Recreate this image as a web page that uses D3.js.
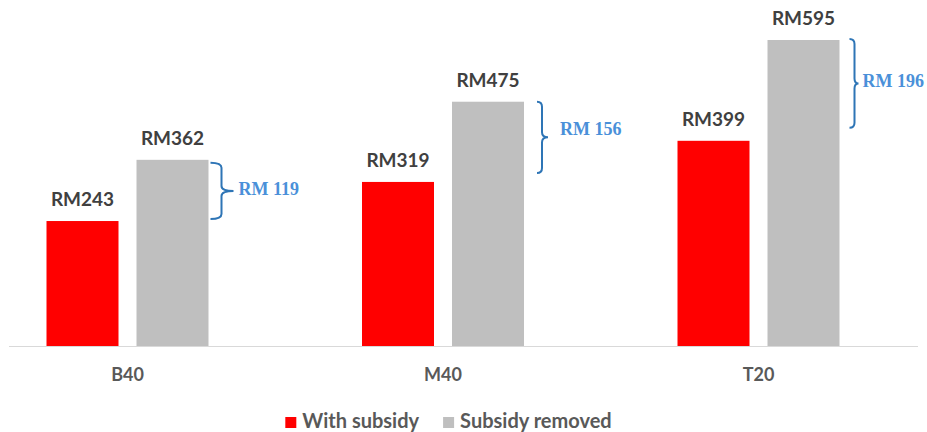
<!DOCTYPE html>
<html>
<head>
<meta charset="utf-8">
<script src="https://cdn.jsdelivr.net/npm/d3@7"></script>
<style>
  html, body { margin: 0; padding: 0; background: #fff; }
  svg { display: block; }
</style>
</head>
<body>
<svg id="chart" width="927" height="432"></svg>
<script>
// Monthly cost per household group, with and without subsidy
const categories = ["B40", "M40", "T20"];
const seriesNames = ["With subsidy", "Subsidy removed"];
const withSubsidy = [243, 319, 399];
const subsidyRemoved = [362, 475, 595];
const seriesColors = ["#ff0000", "#bfbfbf"];

// Hand-placed brace geometry per group (px offsets from the grey bar's right edge / bar tops)
const braceLayout = [
  { arm: 2,  spine: 13, tip: 25, label: 30, topAdj: 3,  botAdj: -2,  textDy: 4 },
  { arm: 13, spine: 18, tip: 24, label: 36, topAdj: 0,  botAdj: -9,  textDy: -2 },
  { arm: 10, spine: 15, tip: 19, label: 23, topAdj: -1, botAdj: -13, textDy: 4 }
];

const svg = d3.select("#chart");
const baseline = 346;

const x = d3.scaleBand()
  .domain(categories)
  .range([-30.25, 916.25]);

const xInner = d3.scaleBand()
  .domain(seriesNames)
  .range([0, 162])
  .paddingInner(0.2);

const y = d3.scaleLinear()
  .domain([0, 595])
  .range([baseline, 40]);

const rows = categories.map((c, i) => ({
  cat: c,
  idx: i,
  values: [withSubsidy[i], subsidyRemoved[i]]
}));

const groupX = c => x(c) + (x.bandwidth() - 162) / 2;

// baseline axis
svg.append("line")
  .attr("x1", 9).attr("x2", 918)
  .attr("y1", baseline + 0.5).attr("y2", baseline + 0.5)
  .attr("stroke", "#d9d9d9").attr("stroke-width", 1);

const groups = svg.selectAll("g.grp")
  .data(rows)
  .join("g")
  .attr("class", "grp")
  .attr("transform", d => `translate(${groupX(d.cat)},0)`);

groups.selectAll("rect")
  .data(d => d.values.map((v, k) => ({ v, k })))
  .join("rect")
  .attr("x", d => xInner(seriesNames[d.k]))
  .attr("width", xInner.bandwidth())
  .attr("y", d => y(d.v))
  .attr("height", d => baseline - y(d.v))
  .attr("fill", d => seriesColors[d.k]);

// value labels
groups.selectAll("text.val")
  .data(d => d.values.map((v, k) => ({ v, k })))
  .join("text")
  .attr("class", "val")
  .attr("x", d => xInner(seriesNames[d.k]) + xInner.bandwidth() / 2)
  .attr("y", d => y(d.v) - 15)
  .attr("text-anchor", "middle")
  .attr("font-family", "Lato, 'Open Sans', sans-serif")
  .attr("font-weight", "bold")
  .attr("font-size", "19px")
  .attr("fill", "#404040")
  .text(d => "RM" + d.v);

// difference braces
groups.each(function(d) {
  const g = d3.select(this);
  const L = braceLayout[d.idx];
  const gx = xInner(seriesNames[1]) + xInner.bandwidth();
  const top = y(d.values[1]) + L.topAdj;
  const bot = y(d.values[0]) + L.botAdj;
  const mid = (top + bot) / 2;
  const x0 = gx + L.arm, x1 = gx + L.spine, tip = gx + L.tip;
  const r = Math.min(5, (x1 - x0));
  const p = d3.path();
  p.moveTo(x0, top);
  p.quadraticCurveTo(x1, top, x1, top + r);
  p.lineTo(x1, mid - r);
  p.quadraticCurveTo(x1, mid, tip, mid);
  p.quadraticCurveTo(x1, mid, x1, mid + r);
  p.lineTo(x1, bot - r);
  p.quadraticCurveTo(x1, bot, x0, bot);
  g.append("path")
    .attr("d", p.toString())
    .attr("fill", "none")
    .attr("stroke", "#2e75b6")
    .attr("stroke-width", 2);
  g.append("text")
    .attr("x", gx + L.label)
    .attr("y", mid + L.textDy)
    .attr("font-family", "'Liberation Serif', 'Times New Roman', serif")
    .attr("font-weight", "bold")
    .attr("font-size", "18px")
    .attr("fill", "#4a90d9")
    .text("RM " + (d.values[1] - d.values[0]));
});

// category axis labels
svg.append("g")
  .selectAll("text")
  .data(categories)
  .join("text")
  .attr("x", c => x(c) + x.bandwidth() / 2)
  .attr("y", 381)
  .attr("text-anchor", "middle")
  .attr("font-family", "Lato, 'Open Sans', sans-serif")
  .attr("font-weight", "bold")
  .attr("font-size", "18px")
  .attr("fill", "#595959")
  .text(c => c);

// legend
const legend = svg.append("g");
let lx = 0;
seriesNames.forEach((name, i) => {
  const item = legend.append("g").attr("transform", `translate(${lx},0)`);
  item.append("rect")
    .attr("x", 0).attr("y", 417)
    .attr("width", 11).attr("height", 11)
    .attr("fill", seriesColors[i]);
  const t = item.append("text")
    .attr("x", 17).attr("y", 428)
    .attr("font-family", "Lato, 'Open Sans', sans-serif")
    .attr("font-weight", "bold")
    .attr("font-size", "20px")
    .attr("fill", "#595959")
    .text(name);
  lx += 17 + t.node().getComputedTextLength() + 24;
});
const lw = legend.node().getBBox().width;
legend.attr("transform", `translate(${448.5 - lw / 2},0)`);
</script>
</body>
</html>
